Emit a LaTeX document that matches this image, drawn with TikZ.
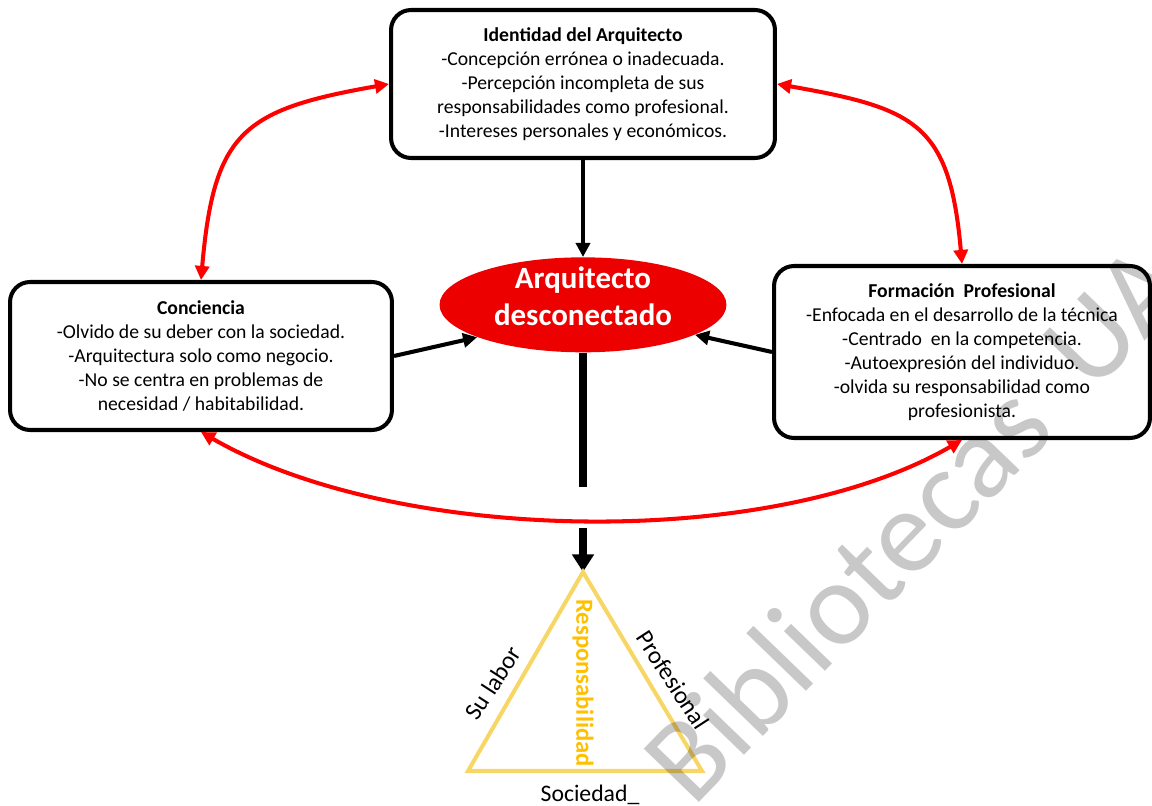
\documentclass[tikz,border=0pt]{standalone}
\usepackage{fontspec}
\setmainfont{Carlito}
\usetikzlibrary{shapes,arrows.meta,positioning}
\definecolor{redarrow}{RGB}{255,0,0}
\definecolor{redfill}{RGB}{237,0,0}
\definecolor{gold}{RGB}{248,214,102}
\definecolor{darkgold}{RGB}{255,192,0}
\definecolor{markgray}{RGB}{200,200,200}

\begin{document}
\begin{tikzpicture}[
    x=0.02cm, y=0.02cm,
    >={Triangle[length=8pt,width=8pt]},
    node distance=1.94cm,
    problem/.style={rectangle, rounded corners=0.4cm, draw=black, line width=2.3pt, fill=white, align=center, inner sep=2pt, font=\fontsize{11.2}{13.6}\selectfont},
    core/.style={ellipse, fill=redfill, text=white, align=center, inner xsep=0pt, inner ysep=-6pt, text depth=10pt, minimum width=5.74cm, minimum height=1.9cm, font=\fontsize{17.6}{21.5}\selectfont\bfseries},
    feedback/.style={<->, draw=redarrow, line width=2.3pt},
    cause/.style={->, draw=black, line width=2.3pt},
    side/.style={inner sep=1pt, font=\fontsize{14}{16}\selectfont}
]
\useasboundingbox (0,0) rectangle (1152,805);

\node [problem, minimum width=7.68cm, minimum height=2.96cm] (ident) at (583,721) {\textbf{Identidad del Arquitecto}\\-Concepción errónea o inadecuada.\\-Percepción incompleta de sus\\responsabilidades como profesional.\\-Intereses personales y económicos.};
\node [core, below=of ident] (arq) {Arquitecto\\desconectado};
\node [problem, minimum width=7.64cm, minimum height=2.96cm] (concien) at (201,449) {\textbf{Conciencia}\\-Olvido de su deber con la sociedad.\\-Arquitectura solo como negocio.\\-No se centra en problemas de\\necesidad / habitabilidad.};
\node [problem, minimum width=7.52cm, minimum height=3.44cm] (formacion) at (962,453) {\textbf{Formación\ \ Profesional}\\-Enfocada en el desarrollo de la técnica\\-Centrado\ \ en la competencia.\\-Autoexpresión del individuo.\\-olvida su responsabilidad como\\profesionista.};

\draw [cause] (ident) -- (arq);
\draw [cause] (concien.east) -- (arq.197);
\draw [cause] (formacion.west) -- (arq.-15);

\draw [feedback] (concien.north) to[out=85, in=190, looseness=1.4] (ident.west);
\draw [feedback] (ident.east) to[out=-10, in=95, looseness=1.4] (formacion.north);
\draw [feedback] (concien.south) to[out=-30, in=-150, looseness=0.75] (formacion.south);

\coordinate (gapA) at (583,318);
\coordinate (gapB) at (583,277);
\coordinate (apex) at (583,233);
\coordinate (left) at (468,34);
\coordinate (right) at (702,34);
\draw [line width=4pt] (arq.south) -- (gapA);
\draw [line width=4pt, -{Triangle[length=10pt,width=12pt]}] (gapB) -- (apex);
\draw [gold, line width=2.3pt] (apex) -- (left) -- (right) -- cycle;

\node [side, text=darkgold, font=\fontsize{14}{16}\selectfont\bfseries, rotate=-90] (resp) at (583,122) {Responsabilidad};
\node [side, rotate=57] (labor) at (493,122) {Su labor};
\node [side, rotate=-57] (prof) at (673,125) {Profesional};
\node [side, font=\fontsize{13.5}{16}\selectfont] (soc) at (590,10) {Sociedad\_};

\begin{scope}[blend mode=multiply]
\node [anchor=base west, rotate=46, inner sep=0pt, text=markgray, font=\fontsize{68}{70}\selectfont] (marca) at (693,-4) {Bibliotecas\hspace{0.2em} UA};
\end{scope}
\end{tikzpicture}
\end{document}
